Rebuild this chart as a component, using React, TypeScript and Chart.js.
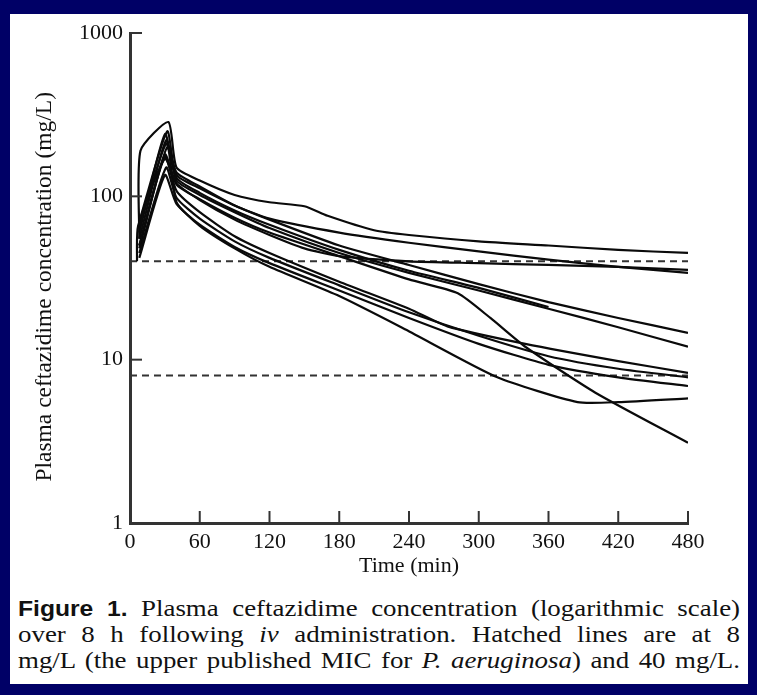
import React, { useEffect, useRef } from "react";
import { Chart, registerables } from "chart.js";

Chart.register(...registerables);

// ---- Data (time in min, concentration in mg/L) ----
const X_TICKS = [0, 60, 120, 180, 240, 300, 360, 420, 480];
const Y_TICKS = [1, 10, 100, 1000];
const MIC_LINES = [40, 8];

const p1Time = [8, 9, 33, 40, 60, 90, 120, 150, 170, 210, 240, 300, 360, 420, 480];
const p1Conc = [55, 190, 285, 150, 125, 102, 92, 87, 76, 62, 58, 53, 50, 47, 45];

const p2Time = [8, 31, 40, 60, 90, 120, 180, 240, 300, 360, 420, 480];
const p2Conc = [65, 210, 140, 115, 88, 73, 60, 52, 46, 41, 37, 34];

const p3Time = [6, 7, 30, 40, 60, 90, 120, 150, 180, 240, 300, 360, 420, 480];
const p3Conc = [40, 66, 170, 120, 95, 72, 58, 48, 43, 40, 39, 38, 37, 35.5];

const p4Time = [8, 30, 40, 60, 90, 120, 180, 240, 300, 360, 420, 480];
const p4Conc = [60, 240, 135, 112, 88, 72, 50, 38, 29, 22.5, 18, 14.6];

const p5Time = [8, 31, 40, 60, 90, 120, 180, 240, 300, 360, 420, 480];
const p5Conc = [55, 220, 125, 102, 80, 64, 45, 34, 26.5, 20.5, 15.8, 12];

const p6Time = [8, 32, 40, 60, 90, 120, 180, 240, 300, 360];
const p6Conc = [70, 250, 130, 105, 82, 67, 47, 35, 27.5, 21];

const p7Time = [8, 30, 40, 60, 90, 120, 180, 240, 282, 310, 340, 400, 480];
const p7Conc = [50, 180, 118, 96, 74, 60, 43, 31, 25.5, 18, 12, 6.3, 3.1];

const p8Time = [8, 30, 40, 60, 90, 120, 180, 240, 273, 340, 420, 480];
const p8Conc = [50, 175, 108, 80, 57, 45, 30, 20.5, 16, 12.5, 9.8, 8.3];

const p9Time = [8, 31, 40, 60, 90, 120, 180, 240, 300, 360, 420, 480];
const p9Conc = [45, 150, 98, 73, 53, 42, 28.5, 19.5, 14, 10.5, 8.8, 7.8];

const p10Time = [8, 30, 40, 60, 90, 120, 180, 240, 300, 360, 420, 480];
const p10Conc = [42, 135, 90, 67, 49, 39, 26.5, 18, 12.5, 9.3, 7.8, 6.9];

const p11Time = [8, 32, 40, 60, 90, 120, 180, 237, 316, 385, 420, 480];
const p11Conc = [48, 200, 92, 66, 48, 37, 24.5, 15.3, 7.8, 5.5, 5.5, 5.8];

const PATIENTS: [number[], number[]][] = [
  [p1Time, p1Conc],
  [p2Time, p2Conc],
  [p3Time, p3Conc],
  [p4Time, p4Conc],
  [p5Time, p5Conc],
  [p6Time, p6Conc],
  [p7Time, p7Conc],
  [p8Time, p8Conc],
  [p9Time, p9Conc],
  [p10Time, p10Conc],
  [p11Time, p11Conc],
];

const SERIF = "'Liberation Serif', 'Times New Roman', serif";

const insideTicks = {
  id: "insideTicks",
  afterDraw(chart: any) {
    const { ctx, chartArea } = chart;
    const xs = chart.scales.x;
    const ys = chart.scales.y;
    ctx.save();
    ctx.strokeStyle = "#333";
    ctx.lineWidth = 2;
    xs.ticks.forEach((t: any) => {
      if (t.value === 0) return;
      const px = xs.getPixelForValue(t.value);
      ctx.beginPath();
      ctx.moveTo(px, chartArea.bottom);
      ctx.lineTo(px, chartArea.bottom - 12);
      ctx.stroke();
    });
    ys.ticks.forEach((t: any) => {
      if (t.value === 1) return;
      const py = ys.getPixelForValue(t.value);
      ctx.beginPath();
      ctx.moveTo(chartArea.left, py);
      ctx.lineTo(chartArea.left + 12, py);
      ctx.stroke();
    });
    ctx.restore();
  },
};

export default function App() {
  const ref = useRef<HTMLCanvasElement | null>(null);

  useEffect(() => {
    if (!ref.current) return;
    const datasets: any[] = PATIENTS.map(([t, c]) => ({
      data: t.map((tt, i) => ({ x: tt, y: c[i] })),
      borderColor: "#0a0a0a",
      borderWidth: 2.2,
      pointRadius: 0,
      tension: 0.2,
      fill: false,
    }));
    MIC_LINES.forEach((v) => {
      datasets.push({
        data: [
          { x: X_TICKS[0], y: v },
          { x: X_TICKS[X_TICKS.length - 1], y: v },
        ],
        borderColor: "#333",
        borderWidth: 2,
        borderDash: [7, 5],
        pointRadius: 0,
        fill: false,
      });
    });

    const chart = new Chart(ref.current, {
      type: "line",
      data: { datasets },
      plugins: [insideTicks],
      options: {
        responsive: false,
        animation: false,
        layout: { padding: { top: 33, right: 69, left: 0, bottom: 0 } },
        plugins: { legend: { display: false }, tooltip: { enabled: false } },
        scales: {
          x: {
            type: "linear",
            min: 0,
            max: 480,
            afterFit: (s: any) => {
              s.height = 67;
            },
            afterBuildTicks: (s: any) => {
              s.ticks = X_TICKS.map((v) => ({ value: v }));
            },
            ticks: {
              padding: 8,
              maxRotation: 0,
              autoSkip: false,
              color: "#111",
              font: { family: SERIF, size: 22, lineHeight: 1 },
              callback: (v: any) => String(v),
            },
            grid: { display: false, drawTicks: false },
            border: { display: true, color: "#333", width: 3 },
            title: {
              display: true,
              text: "Time (min)",
              color: "#111",
              font: { family: SERIF, size: 22, lineHeight: 1 },
              padding: { top: 0, bottom: 13 },
            },
          },
          y: {
            type: "logarithmic",
            min: 1,
            max: 1000,
            afterFit: (s: any) => {
              s.width = 130;
            },
            afterBuildTicks: (s: any) => {
              s.ticks = Y_TICKS.map((v) => ({ value: v }));
            },
            ticks: {
              padding: 7,
              color: "#111",
              font: { family: SERIF, size: 22, lineHeight: 1 },
              callback: (v: any) => String(v),
            },
            grid: { display: false, drawTicks: false },
            border: { display: true, color: "#333", width: 3 },
            title: {
              display: true,
              text: "Plasma ceftazidime concentration (mg/L)\u00A0\u00A0\u00A0",
              color: "#111",
              font: { family: SERIF, size: 23.5, lineHeight: 1 },
              padding: { top: 33, bottom: 0 },
            },
          },
        },
      },
    });
    return () => chart.destroy();
  }, []);

  const SCALE_X = 1.12;
  const lineStyle: React.CSSProperties = {
    position: "absolute",
    left: 18,
    width: 722 / SCALE_X,
    height: 27,
    lineHeight: "27px",
    fontFamily: SERIF,
    fontSize: 24,
    color: "#111",
    textAlign: "justify",
    textAlignLast: "justify" as any,
    transform: `scaleX(${SCALE_X})`,
    transformOrigin: "left top",
  };

  return (
    <div
      style={{
        position: "fixed",
        left: 0,
        top: 0,
        width: 757,
        height: 695,
        background: "#000066",
        overflow: "hidden",
      }}
    >
      <div
        style={{
          position: "absolute",
          left: 10,
          top: 14,
          width: 738,
          height: 670,
          background: "#ffffff",
        }}
      />
      <canvas
        ref={ref}
        width={757}
        height={590}
        style={{ position: "absolute", left: 0, top: 0, width: 757, height: 590 }}
      />
      <div style={{ ...lineStyle, top: 595 }}>
        <span style={{ fontFamily: "'Liberation Sans', Arial, sans-serif", fontWeight: 700, fontSize: 22 }}>
          Figure 1.
        </span>{" "}
        Plasma ceftazidime concentration (logarithmic scale)
      </div>
      <div style={{ ...lineStyle, top: 621 }}>
        over 8 h following <i>iv</i> administration. Hatched lines are at 8
      </div>
      <div style={{ ...lineStyle, top: 647 }}>
        mg/L (the upper published MIC for <i>P. aeruginosa</i>) and 40 mg/L.
      </div>
    </div>
  );
}
